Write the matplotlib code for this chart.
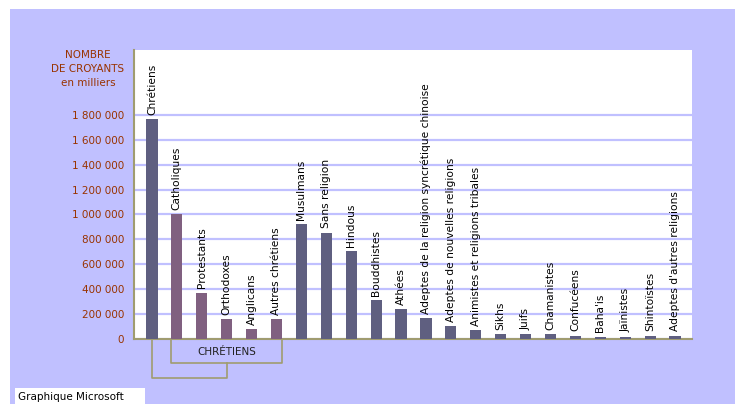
import matplotlib.pyplot as plt
import matplotlib.transforms as mtransforms
from matplotlib.patches import Rectangle

# Nombre de croyants (en milliers)
RELIGIONS = [
    "Chrétiens", "Catholiques", "Protestants", "Orthodoxes", "Anglicans",
    "Autres chrétiens", "Musulmans", "Sans religion", "Hindous", "Bouddhistes",
    "Athées", "Adeptes de la religion syncrétique chinoise",
    "Adeptes de nouvelles religions", "Animistes et religions tribales",
    "Sikhs", "Juifs", "Chamanistes", "Confucéens", "Baha'is", "Jaïnistes",
    "Shintoïstes", "Adeptes d'autres religions",
]
CROYANTS = [
    1765000, 1000000, 372000, 158000, 78000, 158000, 924000, 854000,
    709000, 313000, 238000, 171000, 102000, 72000, 40000, 38000, 40000,
    28000, 20000, 20000, 28000, 28000,
]
SOUS_GROUPES = ["Catholiques", "Protestants", "Orthodoxes", "Anglicans", "Autres chrétiens"]
Y_TICKS = list(range(0, 1800001, 200000))

BG = "#c0c0ff"
DARK = "#5f5f80"
MAUVE = "#806080"
OLIVE = "#a09c70"
TICK_RED = "#993300"


def fmt(v):
    return f"{v:,}".replace(",", " ")


fig = plt.figure(figsize=(7.35, 4.04), dpi=100)
fig.patch.set_facecolor("white")
fig.patches.append(Rectangle((10 / 735, 0), 1, 395 / 404, transform=fig.transFigure,
                             facecolor=BG, edgecolor="none", zorder=-10))
fig.patches.append(Rectangle((15 / 735, 0), 130 / 735, 16 / 404, transform=fig.transFigure,
                             facecolor="white", edgecolor="none", zorder=-5))
fig.text(18 / 735, 7 / 404, "Graphique Microsoft", fontsize=7.5, va="center", ha="left")

ax = fig.add_axes([134 / 735, 65 / 404, 558 / 735, 289 / 404])
ax.set_facecolor("white")

x = list(range(len(RELIGIONS)))
colors = [MAUVE if r in SOUS_GROUPES else DARK for r in RELIGIONS]
ax.bar(x, CROYANTS, width=0.45, color=colors, zorder=3)

for xi, name, val in zip(x, RELIGIONS, CROYANTS):
    ax.annotate(name, (xi, val), xytext=(0, 3), textcoords="offset points",
                rotation=90, ha="center", va="bottom", fontsize=7.7)

ax.set_xlim(-0.72, 21.68)
ax.set_ylim(0, 2320000)
ax.set_yticks(Y_TICKS)
ax.set_yticklabels([fmt(v) for v in Y_TICKS], color=TICK_RED, fontsize=7.5)
ax.set_xticks([])
ax.tick_params(axis="y", length=0, pad=7)
ax.yaxis.grid(True, color=BG, linewidth=1.6, zorder=0)
ax.set_axisbelow(True)
for side in ["top", "right"]:
    ax.spines[side].set_visible(False)
for side in ["left", "bottom"]:
    ax.spines[side].set_color(OLIVE)
    ax.spines[side].set_linewidth(1.5)

fig.text(88 / 735, 1 - 69 / 404, "NOMBRE\nDE CROYANTS\nen milliers", color=TICK_RED,
         fontsize=7.5, ha="center", va="center", linespacing=1.45)

# Accolade "CHRÉTIENS" sous l'axe
trans = mtransforms.blended_transform_factory(ax.transData, ax.transAxes)
i0 = RELIGIONS.index("Catholiques")
i1 = RELIGIONS.index("Autres chrétiens")
left, right = i0 - 0.22, i1 + 0.22
box_bottom, bracket_bottom = -0.082, -0.134
ax.plot([left, left, right, right], [0, box_bottom, box_bottom, 0], color=OLIVE,
        linewidth=1.2, transform=trans, clip_on=False)
mid = (left + right) / 2
ax.plot([0, 0, mid, mid], [0, bracket_bottom, bracket_bottom, box_bottom], color=OLIVE,
        linewidth=1.2, transform=trans, clip_on=False)
ax.text(mid, -0.044, "CHRÉTIENS", transform=trans, ha="center", va="center",
        fontsize=7.5, color="#222222")

fig.savefig("out.png", dpi=100, facecolor=fig.get_facecolor())
